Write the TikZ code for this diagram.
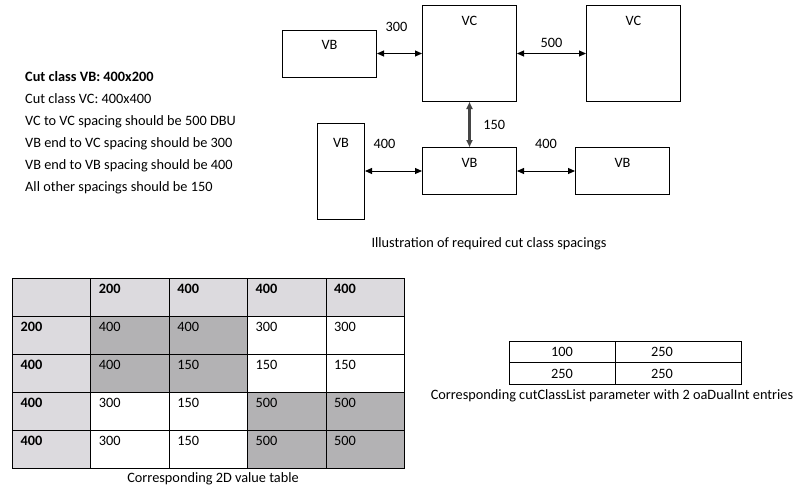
\documentclass[tikz,border=0pt]{standalone}
\usepackage{fontspec}
\setmainfont{Carlito}
\usetikzlibrary{positioning, arrows.meta}
\definecolor{headgray}{HTML}{DCDADE}
\definecolor{cellgray}{HTML}{B3B2B4}
\definecolor{bargray}{HTML}{454545}
\AtBeginDocument{\fontsize{14.3}{17}\selectfont}
\tikzset{
  cutbox/.style={
    rectangle,
    draw=black,
    line width=1pt,
    inner sep=0pt
  },
  vbwide/.style={cutbox, minimum width=94pt, minimum height=47pt},
  vbtall/.style={cutbox, minimum width=47pt, minimum height=96pt},
  vcsquare/.style={cutbox, minimum width=94pt, minimum height=96pt},
  boxtext/.style={anchor=north, yshift=-6pt},
  spacing/.style={
    draw=black,
    line width=1pt,
    {Triangle[length=7pt,width=6pt]}-{Triangle[length=7pt,width=6pt]}
  },
  cell/.style={
    rectangle,
    draw=black,
    line width=1pt,
    anchor=north west,
    inner xsep=8pt,
    inner ysep=5pt,
    text width=62.4pt,
    text height=10pt,
    text depth=18pt,
    align=left
  },
  headcell/.style={cell, fill=headgray, font=\bfseries},
  darkcell/.style={cell, fill=cellgray},
  plaincell/.style={cell, fill=white},
  entry/.style={
    rectangle,
    draw=black,
    line width=1pt,
    minimum height=21.7pt,
    minimum width=106pt,
    inner sep=0pt,
    outer sep=0pt,
    anchor=north west
  },
  entryr/.style={entry, inner xsep=36pt, text width=54pt, align=left}
}

\begin{document}
\begin{tikzpicture}[x=1pt, y=-1pt]
\useasboundingbox (0,0) rectangle (806,499);

% rules text
\node[anchor=north west, inner sep=0pt, align=left, font=\fontsize{14.3}{22}\selectfont] (rules) at (25,71)
{\textbf{Cut class VB: 400x200}\\
 Cut class VC: 400x400\\
 VC to VC spacing should be 500 DBU\\
 VB end to VC spacing should be 300\\
 VB end to VB spacing should be 400\\
 All other spacings should be 150};

% cut boxes
\node[vcsquare, anchor=north west, label={[boxtext]north:VC}] (vc1) at (422,5) {};
\node[vbwide, left=45pt of vc1, label={[boxtext]north:VB}] (vb1) {};
\node[vcsquare, right=69pt of vc1, label={[boxtext]north:VC}] (vc2) {};
\node[vbwide, below=45pt of vc1, label={[boxtext]north:VB}] (vb3) {};
\node[vbtall, left=57pt of vb3, label={[boxtext, yshift=-5pt]north:VB}] (vb2) {};
\node[vbwide, right=58pt of vb3, label={[boxtext]north:VB}] (vb4) {};

\node (illus) at (489,244) {Illustration of required cut class spacings};

% spacings
\draw [spacing] (vb1.east) -- node[above=16.5pt, xshift=-3pt]{300} (vc1.west);
\draw [spacing] (vc1.east) -- node[above=0.5pt]{500} (vc2.west);
\draw [spacing, draw=bargray, line width=2.2pt] (vc1.south) -- node[right=8pt]{150} (vb3.north);
\draw [spacing] (vb2.east) -- node[above=17.5pt, xshift=-9pt]{400} (vb3.west);
\draw [spacing] (vb3.east) -- node[above=17.5pt]{400} (vb4.west);

% 2D value table
\foreach [count=\r from 0] \rowvals in {
  {headcell/, headcell/200, headcell/400, headcell/400, headcell/400},
  {headcell/200, darkcell/400, darkcell/400, plaincell/300, plaincell/300},
  {headcell/400, darkcell/400, darkcell/150, plaincell/150, plaincell/150},
  {headcell/400, plaincell/300, plaincell/150, darkcell/500, darkcell/500},
  {headcell/400, plaincell/300, plaincell/150, darkcell/500, darkcell/500}}
  \foreach [count=\c from 0] \kind/\val in \rowvals
    \node[\kind] (t\r\c) at ({12+78.4*\c}, {278+38*\r}) {\val};

\node (tblcap) at (213,479) {Corresponding 2D value table};

% cutClassList entries
\node[entry] (d11) at (509,341) {100};
\node[entryr, right=0pt of d11] (d12) {250};
\node[entry, below=0pt of d11] (d21) {250};
\node[entryr, right=0pt of d21] (d22) {250};

\node (listcap) at (612,396) {Corresponding cutClassList parameter with 2 oaDualInt entries};
\end{tikzpicture}
\end{document}
